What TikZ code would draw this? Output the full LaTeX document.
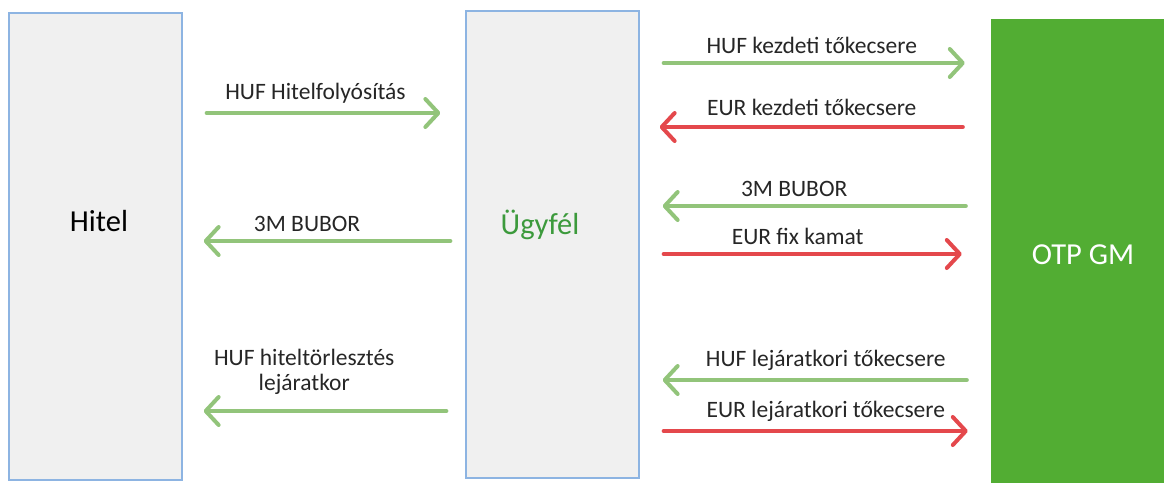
\documentclass[tikz,border=0pt]{standalone}
\usepackage{fontspec}
\setmainfont{Carlito}
\usetikzlibrary{arrows.meta,positioning}

\definecolor{boxgray}{HTML}{F0F0F0}
\definecolor{boxblue}{HTML}{8DB4E2}
\definecolor{otpgreen}{HTML}{52AD33}
\definecolor{hufgreen}{HTML}{92C47A}
\definecolor{eurred}{HTML}{E4484C}
\definecolor{txtgreen}{HTML}{3C9A3C}
\definecolor{txtdark}{HTML}{262626}

\tikzset{
  party/.style={draw=boxblue, line width=1.3pt, fill=boxgray, minimum width=173pt, minimum height=467pt, inner sep=0pt},
  bank/.style={fill=otpgreen, minimum width=173pt, minimum height=464pt, inner sep=0pt},
  partyname/.style={font=\fontsize{30.5}{34}\selectfont},
  flow/.style={line width=4pt, line cap=round, -{Straight Barb[length=13pt,width=28pt,line cap=round,line join=round]}, shorten <=24pt, shorten >=24pt},
  huf/.style={flow, draw=hufgreen},
  eur/.style={flow, draw=eurred},
  lbl/.style={font=\fontsize{23.5}{25}\selectfont, text=txtdark, above=4pt, align=center},
}

\begin{document}
\begin{tikzpicture}[x=1pt,y=-1pt]
  \useasboundingbox (0,0) rectangle (1164,483);
  % the three parties
  \node[party] (hitel)  at (95.5,246.5) {};
  \node[party] (ugyfel) at (552.5,244.5) {};
  \node[bank]  (otp)    at (1077.5,251) {};
  \node[partyname] (hitel_t)  at (99,221) {Hitel};
  \node[partyname, text=txtgreen] (ugyfel_t) at (540,225) {Ügyfél};
  \node[partyname, text=white] (otp_t) at (1083,255) {OTP GM};

  % hitel <-> ugyfel
  \draw[huf, shorten >=25pt] (hitel.east |- 0,113) -- node[lbl, pos=0.47] {HUF Hitelfolyósítás} (ugyfel.west |- 0,113);
  \draw[huf, shorten <=15pt, shorten >=21pt] (ugyfel.west |- 0,241) -- node[lbl, pos=0.56] {3M BUBOR} (hitel.east |- 0,241);
  \draw[huf, shorten <=19pt, shorten >=21pt] (ugyfel.west |- 0,411) -- node[lbl, pos=0.57, above=11pt] {HUF hiteltörlesztés\\lejáratkor} (hitel.east |- 0,411);

  % ugyfel <-> otp
  \draw[huf, shorten >=26pt] (ugyfel.east |- 0,63) -- node[lbl, pos=0.49] {HUF kezdeti tőkecsere} (otp.west |- 0,63);
  \draw[eur, shorten <=28pt, shorten >=20pt] (otp.west |- 0,127) -- node[lbl, pos=0.51, above=6pt] {EUR kezdeti tőkecsere} (ugyfel.east |- 0,127);
  \draw[huf, shorten <=25pt, shorten >=23pt] (otp.west |- 0,206) -- node[lbl, pos=0.56] {3M BUBOR} (ugyfel.east |- 0,206);
  \draw[eur, shorten >=29pt] (ugyfel.east |- 0,254) -- node[lbl, pos=0.45] {EUR fix kamat} (otp.west |- 0,254);
  \draw[huf, shorten >=23pt] (otp.west |- 0,380) -- node[lbl, pos=0.47] {HUF lejáratkori tőkecsere} (ugyfel.east |- 0,380);
  \draw[eur, shorten >=23pt] (ugyfel.east |- 0,431) -- node[lbl, pos=0.53] {EUR lejáratkori tőkecsere} (otp.west |- 0,431);
\end{tikzpicture}
\end{document}
